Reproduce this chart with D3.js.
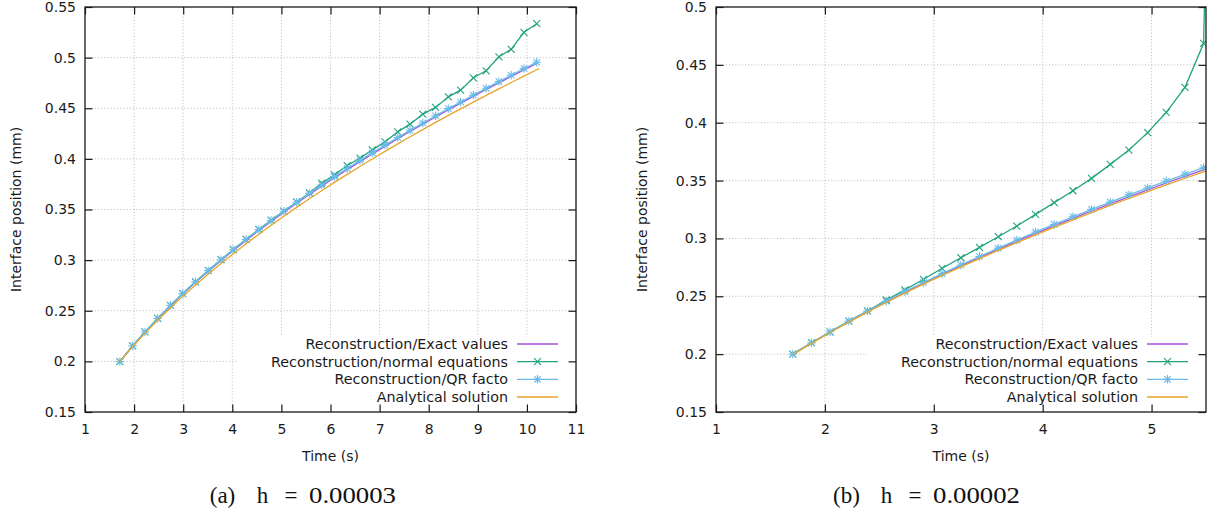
<!DOCTYPE html>
<html><head><meta charset="utf-8">
<script src="https://cdn.jsdelivr.net/npm/d3@7"></script>
<style>
html,body{margin:0;padding:0;background:#fff;}
svg{display:block;}
text{font-family:"DejaVu Sans",sans-serif;fill:#1a1a1a;}
text.cap{font-family:"Liberation Serif",serif;fill:#111;}
</style></head>
<body><svg id="c" width="1213" height="517"></svg>
<script>
// ---------- data ----------
const seriesNames = ["Reconstruction/Exact values","Reconstruction/normal equations","Reconstruction/QR facto","Analytical solution"];
const seriesColors = ["#a650dc","#22a37f","#6abbe8","#e6a52a"];

// Panel (a): h = 0.00003
const tA = [1.71,1.97,2.22,2.48,2.74,2.99,3.25,3.51,3.77,4.02,4.28,4.54,4.79,5.05,5.31,5.57,5.82,6.08,6.34,6.60,6.85,7.11,7.37,7.62,7.88,8.14,8.40,8.65,8.91,9.17,9.43,9.68,9.94,10.20];
const exactA = [0.1998,0.2152,0.2289,0.2422,0.2550,0.2666,0.2781,0.2891,0.2997,0.3096,0.3195,0.3292,0.3382,0.3473,0.3562,0.3648,0.3730,0.3814,0.3894,0.3973,0.4048,0.4124,0.4199,0.4270,0.4342,0.4414,0.4484,0.4550,0.4618,0.4685,0.4751,0.4814,0.4879,0.4942];
const normalA = [0.1998,0.2153,0.2291,0.2425,0.2553,0.2670,0.2786,0.2898,0.3005,0.3105,0.3206,0.3304,0.3394,0.3485,0.3574,0.3663,0.3760,0.3842,0.3934,0.4007,0.4089,0.4168,0.4267,0.4343,0.4442,0.4508,0.4613,0.4679,0.4801,0.4870,0.5008,0.5082,0.5250,0.5335];
const qrA = [0.1998,0.2153,0.2290,0.2424,0.2552,0.2669,0.2785,0.2896,0.3003,0.3103,0.3203,0.3301,0.3391,0.3483,0.3572,0.3659,0.3741,0.3825,0.3905,0.3985,0.4060,0.4136,0.4211,0.4282,0.4354,0.4426,0.4496,0.4562,0.4630,0.4697,0.4763,0.4826,0.4891,0.4954];
const tAnaA = [1.71,1.97,2.22,2.48,2.74,2.99,3.25,3.51,3.77,4.02,4.28,4.54,4.79,5.05,5.31,5.57,5.82,6.08,6.34,6.60,6.85,7.11,7.37,7.62,7.88,8.14,8.40,8.65,8.91,9.17,9.43,9.68,9.94,10.20,10.25];
const anaA = [0.1998,0.2145,0.2277,0.2406,0.2529,0.2642,0.2755,0.2863,0.2967,0.3064,0.3161,0.3256,0.3344,0.3434,0.3521,0.3606,0.3686,0.3768,0.3847,0.3925,0.3999,0.4074,0.4148,0.4218,0.4289,0.4360,0.4429,0.4494,0.4561,0.4627,0.4692,0.4754,0.4818,0.4880,0.4892];

// Panel (b): h = 0.00002
const tB = [1.705,1.877,2.048,2.220,2.391,2.563,2.734,2.906,3.077,3.249,3.420,3.592,3.763,3.935,4.106,4.278,4.449,4.621,4.792,4.964,5.135,5.307,5.478,5.650];
const exactB = [0.2000,0.2096,0.2191,0.2283,0.2369,0.2453,0.2535,0.2613,0.2689,0.2763,0.2835,0.2906,0.2975,0.3043,0.3109,0.3174,0.3237,0.3299,0.3360,0.3420,0.3479,0.3536,0.3593,0.3647];
const normalB = [0.2000,0.2099,0.2191,0.2286,0.2373,0.2468,0.2556,0.2647,0.2742,0.2833,0.2923,0.3015,0.3107,0.3208,0.3309,0.3412,0.3519,0.3640,0.3764,0.3914,0.4090,0.4306,0.4686,1.2000];
const qrB = [0.2000,0.2097,0.2193,0.2285,0.2372,0.2457,0.2540,0.2619,0.2696,0.2771,0.2844,0.2916,0.2986,0.3055,0.3121,0.3187,0.3251,0.3314,0.3376,0.3436,0.3496,0.3554,0.3611,0.3665];
const anaB = [0.1995,0.2093,0.2187,0.2277,0.2363,0.2446,0.2527,0.2605,0.2680,0.2754,0.2826,0.2896,0.2964,0.3031,0.3096,0.3160,0.3223,0.3285,0.3345,0.3404,0.3463,0.3520,0.3576,0.3632];

const xTicksA = [1,2,3,4,5,6,7,8,9,10,11];
const yTicksA = [0.15,0.2,0.25,0.3,0.35,0.4,0.45,0.5,0.55];
const xTicksB = [1,2,3,4,5];
const yTicksB = [0.15,0.2,0.25,0.3,0.35,0.4,0.45,0.5];
const xLabel = "Time (s)";
const yLabel = "Interface position (mm)";
const captionParts = [["(a)","h","=","0.00003"],["(b)","h","=","0.00002"]];

// ---------- drawing ----------
const svg = d3.select("#c");
const zip = (t, v) => t.map((x, i) => [x, v[i]]);

const panels = [
  {id:"a", L:85, R:576, T:7, B:412, xd:[1,11], yd:[0.15,0.55], xt:xTicksA, yt:yTicksA,
   series:[zip(tA,exactA), zip(tA,normalA), zip(tA,qrA), zip(tAnaA,anaA)], ylabX:20.5, capX0:209},
  {id:"b", L:716, R:1206, T:7, B:412, xd:[1,5.5], yd:[0.15,0.5], xt:xTicksB, yt:yTicksB,
   series:[zip(tB,exactB), zip(tB,normalB), zip(tB,qrB), zip(tB,anaB)], ylabX:647, capX0:833}
];
const markers = [null, "x", "*", null];
const fmt = d => String(+d.toFixed(2));
const symX = "M-3.5,-3.5L3.5,3.5M-3.5,3.5L3.5,-3.5";
const symStar = "M-3.2,-3.2L3.2,3.2M-3.2,3.2L3.2,-3.2M-4.2,0L4.2,0M0,-4.2L0,4.2";
// caption part slots: [start offset, width]
const capSlots = [[0,27],[45,17],[72,20],[100,87]];

panels.forEach((p, pi) => {
  const x = d3.scaleLinear().domain(p.xd).range([p.L, p.R]);
  const y = d3.scaleLinear().domain(p.yd).range([p.B, p.T]);
  const g = svg.append("g");

  // grid
  const grid = g.append("g").attr("stroke", "#c4c4c4").attr("stroke-width", 1).attr("stroke-dasharray", "1.2,2");
  p.xt.filter(v => v > p.xd[0] && v < p.xd[1]).forEach(v =>
    grid.append("line").attr("x1", x(v)).attr("x2", x(v)).attr("y1", p.T).attr("y2", p.B));
  p.yt.filter(v => v > p.yd[0] && v < p.yd[1]).forEach(v =>
    grid.append("line").attr("x1", p.L).attr("x2", p.R).attr("y1", y(v)).attr("y2", y(v)));

  // legend background (opaque, hides grid)
  const legW = 339, legTop = 337;
  g.append("rect").attr("x", p.R - legW).attr("y", legTop).attr("width", legW).attr("height", p.B - legTop).attr("fill", "#fff");

  // clip
  const cid = "clip" + p.id;
  svg.append("clipPath").attr("id", cid).append("rect").attr("x", p.L).attr("y", p.T).attr("width", p.R - p.L).attr("height", p.B - p.T);
  const plot = g.append("g").attr("clip-path", `url(#${cid})`);
  const line = d3.line().x(d => x(d[0])).y(d => y(d[1]));

  p.series.forEach((s, si) => {
    plot.append("path").attr("d", line(s)).attr("fill", "none").attr("stroke", seriesColors[si]).attr("stroke-width", 1.3);
    if (markers[si]) {
      const sym = markers[si] === "x" ? symX : symStar;
      plot.selectAll(null).data(s).enter().append("path")
        .attr("d", sym).attr("transform", d => `translate(${x(d[0])},${y(d[1])})`)
        .attr("fill", "none").attr("stroke", seriesColors[si]).attr("stroke-width", 1.1);
    }
  });

  // axes (inward ticks, mirrored)
  const tk = 7.5;
  const ax = (sel) => { sel.select(".domain").remove(); sel.selectAll("line").attr("stroke", "#1a1a1a").attr("stroke-width", 1.2); sel.selectAll("text").attr("font-size", 14).attr("fill", "#1a1a1a"); };
  g.append("g").attr("transform", `translate(0,${p.B})`).call(d3.axisBottom(x).tickValues(p.xt).tickFormat(d3.format("d")).tickSize(-tk).tickPadding(12)).call(ax);
  g.append("g").attr("transform", `translate(0,${p.T})`).call(d3.axisTop(x).tickValues(p.xt).tickFormat("").tickSize(-tk)).call(ax);
  g.append("g").attr("transform", `translate(${p.L},0)`).call(d3.axisLeft(y).tickValues(p.yt).tickFormat(fmt).tickSize(-tk).tickPadding(9)).call(ax);
  g.append("g").attr("transform", `translate(${p.R},0)`).call(d3.axisRight(y).tickValues(p.yt).tickFormat("").tickSize(-tk)).call(ax);

  // frame
  g.append("rect").attr("x", p.L).attr("y", p.T).attr("width", p.R - p.L).attr("height", p.B - p.T)
    .attr("fill", "none").attr("stroke", "#1a1a1a").attr("stroke-width", 1.3);

  // legend
  const rows = [344, 361.7, 379.3, 397];
  seriesNames.forEach((nm, si) => {
    const ry = rows[si];
    g.append("text").attr("x", p.R - 68).attr("y", ry).attr("dy", "0.36em").attr("text-anchor", "end").attr("font-size", 14.3).text(nm);
    g.append("line").attr("x1", p.R - 59).attr("x2", p.R - 18).attr("y1", ry).attr("y2", ry).attr("stroke", seriesColors[si]).attr("stroke-width", 1.3);
    if (markers[si]) {
      const sym = markers[si] === "x" ? symX : symStar;
      g.append("path").attr("d", sym).attr("transform", `translate(${p.R - 38.5},${ry})`).attr("fill", "none").attr("stroke", seriesColors[si]).attr("stroke-width", 1.1);
    }
  });

  // axis labels
  g.append("text").attr("x", (p.L + p.R) / 2).attr("y", 461).attr("text-anchor", "middle").attr("font-size", 14).text(xLabel);
  g.append("text").attr("transform", `translate(${p.ylabX},${(p.T + p.B) / 2}) rotate(-90)`).attr("text-anchor", "middle").attr("font-size", 14).text(yLabel);

  // caption, drawn part by part (LaTeX-like spacing)
  captionParts[pi].forEach((part, k) => {
    const [off, w] = capSlots[k];
    const t = svg.append("text").attr("class", "cap").attr("y", 503).attr("font-size", 23);
    if (k === 3) {
      t.attr("x", p.capX0 + off).attr("textLength", w).attr("lengthAdjust", "spacingAndGlyphs");
    } else {
      t.attr("x", p.capX0 + off + w / 2).attr("text-anchor", "middle");
    }
    t.text(part);
  });
});
</script></body></html>
